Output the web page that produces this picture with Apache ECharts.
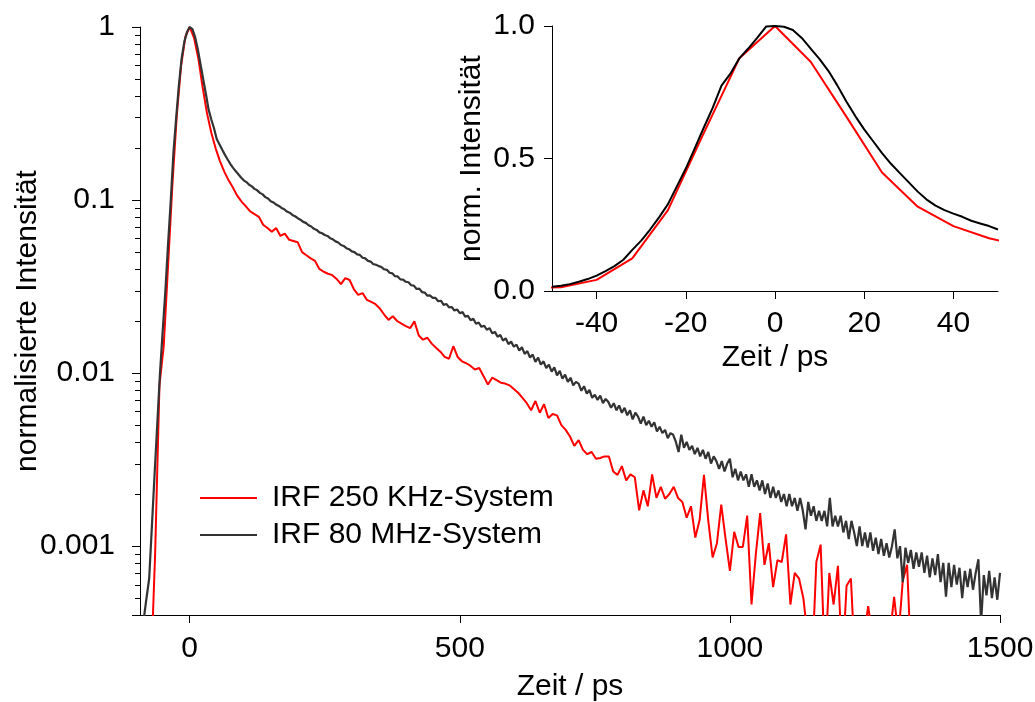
<!DOCTYPE html>
<html><head><meta charset="utf-8">
<script src="https://cdn.jsdelivr.net/npm/echarts@6/dist/echarts.min.js"></script>
<style>html,body{margin:0;padding:0;background:#fff}#c{width:1035px;height:702px}</style>
</head><body><div id="c"></div>
<script>
const FONT = '"Liberation Sans", Arial, Helvetica, sans-serif';
const seriesNames = ['IRF 250 KHz-System', 'IRF 80 MHz-System'];
const mainXMin = -92, mainXMax = 1500;
const mainYMin = 0.0004, mainYMax = 1;
const mainXTicks = [0, 500, 1000, 1500];
const mainYLabelText = ['1', '0.1', '0.01', '0.001'];
const minorTickMultipliers = [2, 3, 4, 5, 6, 7, 8, 9];
const minorTickDecades = [0.0001, 0.001, 0.01, 0.1];
const insetXTicks = [-40, -20, 0, 20, 40];

// red: IRF 250 KHz-System, t = redStart + i*redStep (ps)
const redStart = -88, redStep = 8;
const redValues = [
0.0001,0.0001,0.00018,0.0009,0.0085,0.0144,0.042,0.123,0.305,0.595,
0.878,1.0,0.865,0.658,0.447,0.318,0.245,0.199,0.168,0.146,
0.130,0.118,0.106,0.098,0.092,0.086,0.083,0.080,0.072,0.069,
0.0656,0.069,0.062,0.064,0.059,0.058,0.057,0.050,0.048,0.046,
0.0445,0.040,0.0385,0.0375,0.0368,0.035,0.0327,0.0354,0.0345,0.0305,
0.0283,0.0290,0.0265,0.0258,0.0250,0.0236,0.0218,0.0203,0.0213,0.0200,
0.0193,0.0187,0.0182,0.0199,0.0165,0.0156,0.0160,0.0148,0.0140,0.0133,
0.0124,0.0121,0.0143,0.0124,0.0117,0.0114,0.0110,0.0105,0.0107,0.0096,
0.0086,0.0094,0.0091,0.0088,0.0087,0.0085,0.0081,0.0077,0.0072,0.0067,
0.0061,0.0069,0.0059,0.0066,0.0055,0.0058,0.0057,0.0050,0.0047,0.0043,
0.0038,0.0041,0.0036,0.0034,0.0035,0.0032,0.00323,0.0033,0.0033,0.0027,
0.00258,0.0029,0.0024,0.0026,0.0025,0.00161,0.0021,0.0017,0.0026,0.0019,
0.0022,0.00188,0.0020,0.0022,0.0019,0.0018,0.00146,0.0017,0.00112,0.00142,
0.00258,0.0014,0.00086,0.00104,0.00174,0.0011,0.00072,0.00121,0.00099,0.00099,
0.0015,0.00046,0.0009,0.00155,0.00078,0.00104,0.00058,0.00083,0.00081,0.00117,
0.00046,0.0007,0.00065,0.0005,0.0003,0.0002,0.00081,0.00102,0.0002,0.0007,
0.00046,0.00077,0.0002,0.00059,0.00065,0.0002,0.00025,0.0003,0.00045,0.0003,
0.0002,0.00025,0.0002,0.0003,0.00051,0.0003,0.00063,0.00078,0.0002,0.0002,
0.00025,0.0002,0.0003,0.0002,0.00025,0.0002,0.0003,0.0002,0.00025,0.0002,
0.0003,0.0002,0.00025,0.0002,0.0003,0.0002,0.00025,0.0002,0.0003
];

// black: IRF 80 MHz-System, t = blackStart + i*blackStep (ps)
const blackStart = -90, blackStep = 5;
const blackValues = [
0.00035,0.00038,0.0005,0.00065,0.0013,0.0026,0.0051,0.0100,0.0175,0.030,
0.056,0.100,0.190,0.300,0.462,0.655,0.820,0.935,1.0,0.972,
0.875,0.745,0.61,0.50,0.41,0.333,0.292,0.260,0.225,0.210,
0.196,0.183,0.172,0.162,0.154,0.147,0.141,0.135,0.130,0.127,
0.1225,0.120,0.116,0.1138,0.110,0.1078,0.104,0.102,0.0985,0.0968,
0.0942,0.0925,0.0900,0.0885,0.0858,0.0845,0.0820,0.0806,0.0785,0.0770,
0.0748,0.0738,0.0715,0.0703,0.0682,0.0672,0.0650,0.0643,0.0628,0.0620,
0.0602,0.0593,0.0577,0.0568,0.0550,0.0543,0.0527,0.0520,0.0505,0.0500,
0.0485,0.0482,0.0464,0.0460,0.0445,0.0441,0.0426,0.0423,0.0415,0.0410,
0.0398,0.0395,0.0380,0.0377,0.0363,0.0362,0.0348,0.0347,0.0337,0.0335,
0.0322,0.0320,0.0306,0.0308,0.0294,0.0292,0.0280,0.0281,0.0272,0.0272,
0.0260,0.0262,0.0248,0.0251,0.0240,0.0241,0.0230,0.0233,0.0222,0.0225,
0.0212,0.0214,0.0202,0.0206,0.0193,0.0196,0.0185,0.0188,0.0178,0.0182,
0.0170,0.0173,0.0162,0.0166,0.0154,0.0159,0.0147,0.0152,0.0142,0.0146,
0.0135,0.0141,0.0129,0.0134,0.0123,0.0128,0.0116,0.0123,0.0112,0.0117,
0.0107,0.0112,0.0102,0.0108,0.0097,0.0103,0.0093,0.0098,0.0089,0.0094,
0.0085,0.0089,0.0087,0.0079,0.0084,0.0076,0.0080,0.0072,0.0075,0.0070,
0.0074,0.0067,0.0071,0.0068,0.0063,0.0067,0.0061,0.0065,0.0059,0.0063,
0.0057,0.0061,0.0054,0.0059,0.0056,0.0051,0.0056,0.0050,0.0053,0.0049,
0.0052,0.0046,0.0049,0.0045,0.0047,0.0042,0.0045,0.0044,0.0040,0.0035,
0.0044,0.0037,0.0040,0.0036,0.0038,0.0034,0.0037,0.0033,0.0036,0.0032,
0.0035,0.0030,0.0033,0.0031,0.0028,0.0031,0.0027,0.0030,0.0032,0.0025,
0.0028,0.0024,0.0027,0.0024,0.0026,0.0022,0.0026,0.0022,0.0024,0.0021,
0.0024,0.0020,0.0023,0.0019,0.0022,0.0019,0.0021,0.0018,0.0020,0.0017,
0.0020,0.0017,0.0019,0.0016,0.0019,0.0016,0.00125,0.0018,0.0015,0.0017,
0.0014,0.0016,0.0014,0.0016,0.0013,0.0019,0.0013,0.0015,0.0013,0.0015,
0.0012,0.0014,0.0011,0.0014,0.0012,0.0010,0.0013,0.0010,0.0012,0.00098,
0.00120,0.00094,0.00112,0.00090,0.00110,0.00088,0.00104,0.00086,0.00100,0.00125,
0.00085,0.00100,0.00062,0.00098,0.00080,0.00095,0.00074,0.00092,0.00076,0.00092,
0.00070,0.00088,0.00066,0.00085,0.00068,0.00090,0.00062,0.00080,0.00051,0.00080,
0.00058,0.00078,0.00060,0.00075,0.00050,0.00072,0.00058,0.00074,0.00056,0.00070,
0.00084,0.00036,0.00068,0.00052,0.00072,0.00050,0.00066,0.00049,0.00070
];

// inset black (finer sampling around the peak), t = insetBlackStart + i*insetBlackStep
const insetBlackStart = -50, insetBlackStep = 2;
const insetBlackValues = [
0.016,0.020,0.026,0.035,0.045,0.058,0.075,0.094,0.118,0.155,
0.190,0.232,0.278,0.328,0.395,0.462,0.538,0.615,0.690,0.775,
0.820,0.878,0.915,0.955,0.998,1.000,0.997,0.985,0.955,0.915,
0.875,0.830,0.775,0.715,0.660,0.610,0.565,0.520,0.480,0.445,
0.410,0.375,0.345,0.322,0.305,0.292,0.280,0.265,0.255,0.245,
0.232
];

const toPairs = (start, step, vals) => vals.map((v, i) => [start + i * step, v]);
const redData = toPairs(redStart, redStep, redValues);
const blackData = toPairs(blackStart, blackStep, blackValues);
const insetBlackData = toPairs(insetBlackStart, insetBlackStep, insetBlackValues);

const minorTicks = [];
minorTickDecades.forEach(d => minorTickMultipliers.forEach(m => {
  const v = d * m;
  if (v > mainYMin * 1.01 && v < mainYMax) minorTicks.push([mainXMin, v]);
}));

const txt = {fontFamily: FONT, fontSize: 30, color: '#000'};
const axLine = {show: true, onZero: false, lineStyle: {color: '#000', width: 1}};
const tick = {show: true, inside: false, length: 8, lineStyle: {color: '#000', width: 1}};

const chart = echarts.init(document.getElementById('c'), null, {renderer: 'canvas'});
chart.setOption({
  animation: false,
  backgroundColor: '#fff',
  textStyle: {fontFamily: FONT},
  grid: [
    {left: 140, top: 27, width: 860, height: 588, outerBoundsMode: 'none', containLabel: false},
    {left: 552, top: 26, width: 446, height: 265, outerBoundsMode: 'none', containLabel: false}
  ],
  legend: {
    data: seriesNames, orient: 'vertical', left: 200, top: 483, padding: 0,
    icon: 'rect', itemWidth: 57, itemHeight: 2, itemGap: 7,
    textStyle: Object.assign({}, txt, {lineHeight: 30, padding: [0, 0, 0, 10]})
  },
  xAxis: [
    {type: 'value', gridIndex: 0, min: mainXMin, max: mainXMax,
     axisLine: axLine, axisTick: Object.assign({customValues: mainXTicks}, tick),
     axisLabel: Object.assign({customValues: mainXTicks, margin: 19, formatter: v => String(v)}, txt),
     splitLine: {show: false},
     name: 'Zeit / ps', nameLocation: 'middle', nameGap: 57, nameMoveOverlap: false, nameTextStyle: txt},
    {type: 'value', gridIndex: 1, min: -50, max: 50,
     axisLine: axLine, axisTick: Object.assign({customValues: insetXTicks}, tick),
     axisLabel: Object.assign({customValues: insetXTicks, margin: 18, formatter: v => String(v)}, txt),
     splitLine: {show: false},
     name: 'Zeit / ps', nameLocation: 'middle', nameGap: 52, nameMoveOverlap: false, nameTextStyle: txt}
  ],
  yAxis: [
    {type: 'log', logBase: 10, gridIndex: 0, min: mainYMin, max: mainYMax,
     axisLine: axLine, axisTick: tick,
     axisLabel: Object.assign({margin: 25, formatter: v => {
        const e = Math.log10(v), r = Math.round(e);
        if (Math.abs(e - r) > 0.01 || r > 0 || -r >= mainYLabelText.length) return '';
        return mainYLabelText[-r];
     }}, txt),
     splitLine: {show: false}, minorTick: {show: false},
     name: 'normalisierte Intensität', nameLocation: 'middle', nameGap: 97, nameMoveOverlap: false, nameTextStyle: txt},
    {type: 'value', gridIndex: 1, min: 0, max: 1, interval: 0.5,
     axisLine: axLine, axisTick: tick,
     axisLabel: Object.assign({margin: 17, formatter: v => v.toFixed(1)}, txt),
     splitLine: {show: false},
     name: 'norm. Intensität', nameLocation: 'middle', nameGap: 65, nameMoveOverlap: false, nameTextStyle: txt}
  ],
  series: [
    {type: 'line', name: seriesNames[0], xAxisIndex: 0, yAxisIndex: 0, data: redData,
     symbol: 'none', clip: true, z: 2,
     lineStyle: {color: '#ff0000', width: 2}, itemStyle: {color: '#ff0000'}},
    {type: 'line', name: seriesNames[1], xAxisIndex: 0, yAxisIndex: 0, data: blackData,
     symbol: 'none', clip: true, z: 3,
     lineStyle: {color: '#333333', width: 2.2}, itemStyle: {color: '#333333'}},
    {type: 'line', name: seriesNames[0], xAxisIndex: 1, yAxisIndex: 1, data: redData,
     symbol: 'none', clip: true, z: 2,
     lineStyle: {color: '#ff0000', width: 2}, itemStyle: {color: '#ff0000'}},
    {type: 'line', name: seriesNames[1], xAxisIndex: 1, yAxisIndex: 1, data: insetBlackData,
     symbol: 'none', clip: true, z: 3,
     lineStyle: {color: '#000000', width: 2}, itemStyle: {color: '#000000'}},
    {type: 'custom', name: 'minorTicks', xAxisIndex: 0, yAxisIndex: 0, data: minorTicks,
     silent: true, clip: false, z: 5,
     renderItem: (params, api) => {
       const p = api.coord([api.value(0), api.value(1)]);
       const y = Math.round(p[1]) + 0.5;
       return {type: 'line', shape: {x1: p[0] - 5, y1: y, x2: p[0], y2: y},
               style: {stroke: '#000', lineWidth: 1}};
     }}
  ]
});
</script></body></html>
